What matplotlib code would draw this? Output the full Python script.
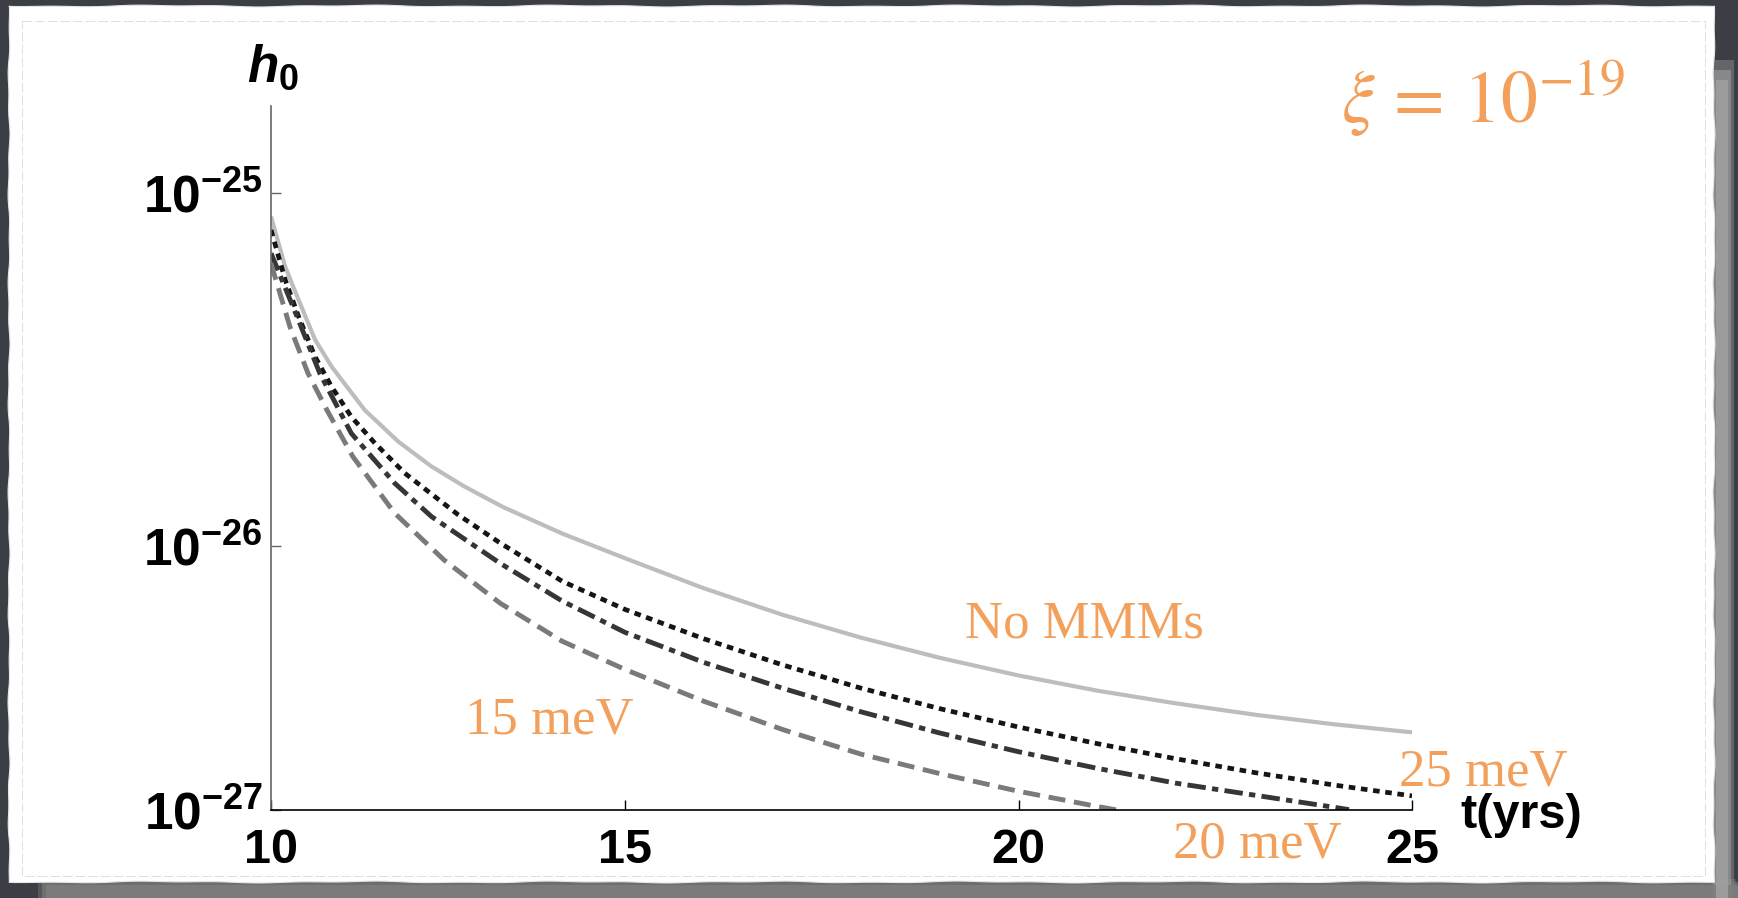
import numpy as np
import matplotlib.pyplot as plt
from matplotlib.ticker import FixedLocator, FixedFormatter, NullLocator
from matplotlib.patches import Polygon, Rectangle

plt.rcParams['mathtext.fontset'] = 'custom'
plt.rcParams['mathtext.rm'] = 'Liberation Sans:bold'
plt.rcParams['mathtext.bf'] = 'Liberation Sans:bold'
plt.rcParams['mathtext.it'] = 'Liberation Sans:italic:bold'

ORANGE = '#f2a05b'
W, H = 1738, 898

# log10(h0) against t (yrs)
t_none = [10.5, 10.68, 10.85, 11.06, 11.27, 11.69, 12.12, 12.54, 12.96, 13.45,
          14.2, 15, 16, 17, 18, 19, 20, 21, 22, 23, 24, 25]
h_none = [-25.067, -25.209, -25.303, -25.416, -25.492, -25.615, -25.705, -25.775,
          -25.832, -25.89, -25.965, -26.035, -26.12, -26.195, -26.26, -26.317,
          -26.367, -26.41, -26.446, -26.478, -26.505, -26.528]

t_25 = [10.5, 10.68, 10.85, 11.06, 11.27, 11.52, 11.82, 12.2, 12.58, 12.88,
        13.4, 14.2, 15, 16, 17, 18, 19, 20, 21, 22, 23, 24, 25]
h_25 = [-25.105, -25.246, -25.350, -25.464, -25.549, -25.634, -25.709, -25.794,
        -25.860, -25.912, -25.99, -26.10, -26.18, -26.263, -26.337, -26.403,
        -26.461, -26.513, -26.56, -26.603, -26.642, -26.677, -26.708]

t_20 = [10.5, 10.83, 11.12, 11.52, 12.07, 12.54, 13.41, 14.2, 15, 16, 17, 18,
        19, 20, 21, 22, 23, 24, 24.2]
h_20 = [-25.171, -25.350, -25.511, -25.681, -25.822, -25.917, -26.049, -26.156,
        -26.245, -26.33, -26.403, -26.47, -26.53, -26.583, -26.63, -26.672,
        -26.706, -26.74, -26.747]

t_15 = [10.5, 10.74, 10.97, 11.21, 11.54, 12.07, 12.7, 13.41, 14.2, 15, 16, 17,
        18, 19, 20, 21, 21.3]
h_15 = [-25.2, -25.379, -25.511, -25.615, -25.747, -25.907, -26.04, -26.162,
        -26.27, -26.35, -26.44, -26.52, -26.59, -26.645, -26.695, -26.738, -26.75]

x_ticks = [10.5, 15, 20, 25]
x_labels = ['10', '15', '20', '25']
y_lo, y_hi = -26.748, -24.754
y_ticks = [10 ** y_lo, 1e-26, 1e-25]
y_labels = [r'$10^{-27}$', r'$10^{-26}$', r'$10^{-25}$']


def fx(px):
    return px / W


def fy(py):
    return 1 - py / H


fig = plt.figure(figsize=(W / 100, H / 100), dpi=100)
fig.patch.set_facecolor('#3b3e45')

# paper sheet with shadow
bg = fig.add_axes([0, 0, 1, 1], zorder=-10)
bg.set_xlim(0, W)
bg.set_ylim(H, 0)
bg.axis('off')
for k, a in enumerate([0.4, 0.6, 0.85]):
    bg.add_patch(Rectangle((38 + 4 * k, 879 + 3 * k), W - 40, 30, color='#7e7e7e',
                           alpha=a, lw=0))
    bg.add_patch(Rectangle((1712 + 2 * k, 60 + 10 * k), 22 - 5 * k, 840, color='#a0a0a0',
                           alpha=a, lw=0))
s = np.linspace(0, 1, 300)
wob = 0.6 * np.sin(s * 53) + 0.4 * np.sin(s * 131 + 1.3)
top = np.column_stack([9 + s * 1705, 6 + wob])
right = np.column_stack([1714 + wob, 6 + s * 876])
bottom = np.column_stack([1714 - s * 1705, 882 + wob[::-1]])
left = np.column_stack([9 + wob[::-1], 882 - s * 876])
bg.add_patch(Polygon(np.vstack([top, right, bottom, left]), closed=True,
                     facecolor='white', edgecolor='#e6e6e6', lw=0.8))
bg.add_patch(Rectangle((22, 21), 1683, 855, fill=False, edgecolor='#e0e0e0',
                       lw=0.7, linestyle=(0, (10, 3))))

ax = fig.add_axes([fx(271), fy(810), fx(1412) - fx(271), fy(106) - fy(810)])
ax.patch.set_alpha(0)
ax.set_yscale('log')

ax.plot(t_none, 10 ** np.array(h_none), color='#bdbdbd', lw=3.0, solid_capstyle='butt')
ax.plot(t_25, 10 ** np.array(h_25), color='#151515', lw=3.4,
        dashes=(1.4, 1.2), dash_capstyle='butt')
ax.plot(t_20, 10 ** np.array(h_20), color='#363636', lw=3.5,
        dashes=(3.8, 1.3, 1.3, 1.3), dash_capstyle='butt')
ax.plot(t_15, 10 ** np.array(h_15), color='#7a7a7a', lw=3.5,
        dashes=(3.5, 1.8), dash_capstyle='butt')

ax.set_xlim(10.5, 25)
ax.set_ylim(10 ** y_lo, 10 ** y_hi)

ax.spines['top'].set_visible(False)
ax.spines['right'].set_visible(False)
ax.spines['left'].set_color('#666666')
ax.spines['left'].set_linewidth(1.2)
ax.spines['bottom'].set_color('black')
ax.spines['bottom'].set_linewidth(1.2)

ax.xaxis.set_major_locator(FixedLocator(x_ticks))
ax.xaxis.set_major_formatter(FixedFormatter(x_labels))
ax.yaxis.set_major_locator(FixedLocator(y_ticks))
ax.yaxis.set_major_formatter(FixedFormatter(y_labels))
ax.yaxis.set_minor_locator(NullLocator())
ax.xaxis.set_minor_locator(NullLocator())
ax.tick_params(axis='x', direction='in', length=7, width=1, color='black',
               labelsize=35, pad=13)
ax.tick_params(axis='y', direction='in', length=7, width=1, color='#666666',
               labelsize=37, pad=6)
for lab in ax.get_xticklabels():
    lab.set_fontweight('bold')
    lab.set_family('Liberation Sans')

# axis titles
fig.text(fx(247), fy(82), r'$h_{0}$', fontsize=37, ha='left', va='baseline')
fig.text(fx(1460), fy(828), 't(yrs)', fontsize=35, fontweight='bold',
         family='Liberation Sans', ha='left', va='baseline')

# curve labels
serif = dict(family='Liberation Serif', color=ORANGE, fontsize=38,
             ha='left', va='baseline')
fig.text(fx(965), fy(638), 'No MMMs', **serif)
fig.text(fx(465), fy(733), '15 meV', **serif)
fig.text(fx(1399), fy(785), '25 meV', **serif)
fig.text(fx(1173), fy(857), '20 meV', **serif)
fig.text(fx(1341), fy(123), r'$\xi\,=\,10^{-19}$', fontsize=53, color=ORANGE,
         math_fontfamily='stix', ha='left', va='baseline')

plt.savefig('out.png', dpi=100, facecolor=fig.get_facecolor())
